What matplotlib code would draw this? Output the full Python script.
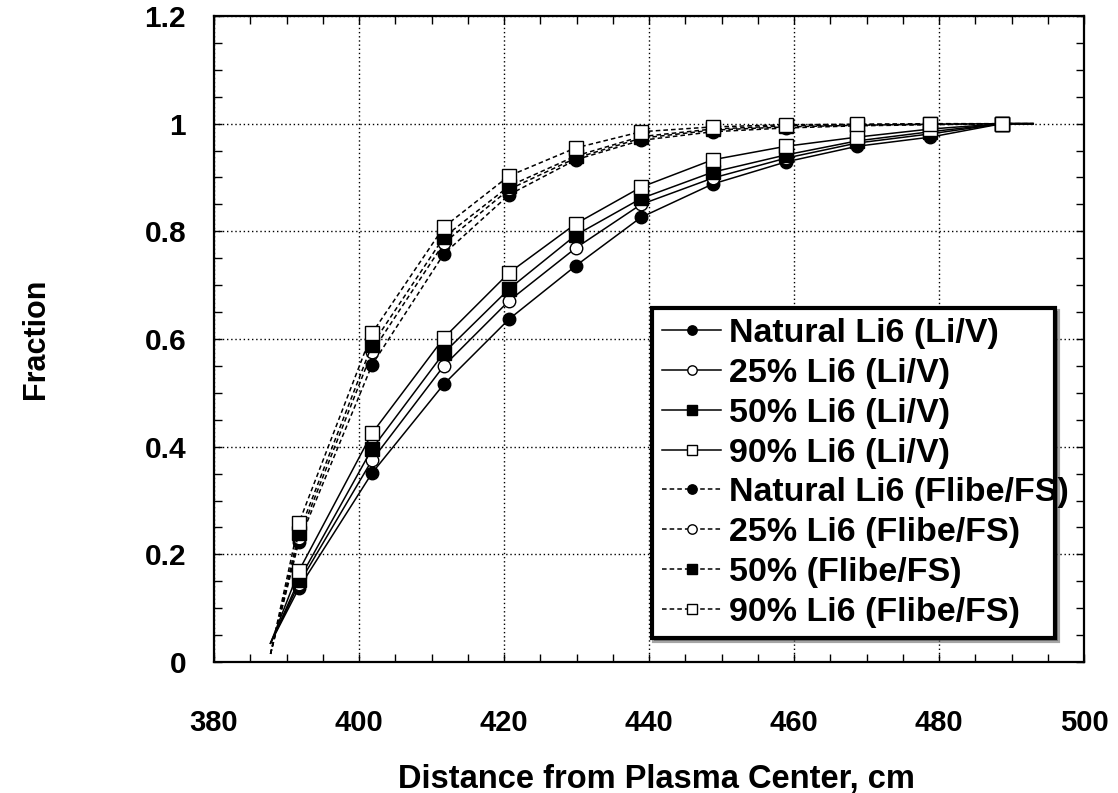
import matplotlib
matplotlib.use("Agg")
import matplotlib.pyplot as plt
from matplotlib.ticker import MultipleLocator

plt.rcParams['font.family'] = ['Liberation Sans', 'DejaVu Sans']
plt.rcParams['font.weight'] = 'bold'

# Radial distance of the sampled points (cm)
distance_cm = [387.8, 391.7, 401.8, 411.7, 420.7, 429.9, 438.9, 448.8,
               458.9, 468.7, 478.8, 488.7, 493.0]

# Cumulative fraction, Li/V blanket
li_v_natural = [0.035, 0.137, 0.351, 0.516, 0.637, 0.736, 0.826, 0.888, 0.929, 0.958, 0.975, 1.0, 1.0]
li_v_25 = [0.035, 0.145, 0.375, 0.550, 0.671, 0.769, 0.850, 0.899, 0.936, 0.964, 0.981, 1.0, 1.0]
li_v_50 = [0.035, 0.152, 0.396, 0.574, 0.693, 0.793, 0.861, 0.910, 0.942, 0.968, 0.985, 1.0, 1.0]
li_v_90 = [0.035, 0.169, 0.425, 0.602, 0.723, 0.814, 0.882, 0.933, 0.958, 0.975, 0.990, 1.0, 1.0]

# Cumulative fraction, Flibe/FS blanket
flibe_natural = [0.015, 0.223, 0.552, 0.758, 0.868, 0.933, 0.969, 0.985, 0.992, 0.996, 0.998, 1.0, 1.0]
flibe_25 = [0.015, 0.230, 0.576, 0.778, 0.878, 0.936, 0.973, 0.988, 0.994, 0.997, 0.999, 1.0, 1.0]
flibe_50 = [0.015, 0.240, 0.589, 0.789, 0.884, 0.940, 0.976, 0.990, 0.996, 0.998, 0.999, 1.0, 1.0]
flibe_90 = [0.015, 0.258, 0.611, 0.808, 0.903, 0.955, 0.985, 0.994, 0.998, 0.999, 1.0, 1.0, 1.0]

labels = ["Natural Li6 (Li/V)", "25% Li6 (Li/V)", "50% Li6 (Li/V)", "90% Li6 (Li/V)",
          "Natural Li6 (Flibe/FS)", "25% Li6 (Flibe/FS)", "50% (Flibe/FS)", "90% Li6 (Flibe/FS)"]

fig = plt.figure(figsize=(11.18, 7.93), dpi=100)
ax = fig.add_axes([214 / 1118, 1 - 662 / 793, 870 / 1118, 646 / 793])

marker_styles = [("o", "black"), ("o", "white"), ("s", "black"), ("s", "white")]
series = [li_v_natural, li_v_25, li_v_50, li_v_90,
          flibe_natural, flibe_25, flibe_50, flibe_90]

for i, (values, label) in enumerate(zip(series, labels)):
    marker, face = marker_styles[i % 4]
    dashed = i >= 4
    ax.plot(distance_cm, values, color="black", lw=1.1,
            linestyle=(0, (3, 2)) if dashed else "-",
            marker=marker, markerfacecolor=face, markeredgecolor="black",
            markeredgewidth=1.0, markersize=9 if marker == "o" else 9.5,
            markevery=slice(1, -1), label=label, zorder=3 + i % 4)

ax.set_xlim(380, 500)
ax.set_ylim(0, 1.2)
ax.xaxis.set_major_locator(MultipleLocator(20))
ax.xaxis.set_minor_locator(MultipleLocator(5))
ax.yaxis.set_minor_locator(MultipleLocator(0.05))
ax.set_yticks([0, 0.2, 0.4, 0.6, 0.8, 1.0, 1.2])
ax.set_yticklabels(["0", "0.2", "0.4", "0.6", "0.8", "1", "1.2"])

ax.tick_params(which="both", direction="in", top=True, right=True,
               length=6, width=1.0, colors="black")
ax.tick_params(axis="x", which="major", labelsize=21, pad=34)
ax.tick_params(axis="y", which="major", labelsize=21.5, pad=20)

ax.grid(True, which="major", color="black", linestyle=(0, (1, 2)), lw=1.0)
for spine in ax.spines.values():
    spine.set_linewidth(1.6)

ax.set_xlabel("Distance from Plasma Center, cm", fontsize=23.5, fontweight="bold", labelpad=19)
ax.xaxis.label.set_x(0.508)
ax.set_ylabel("Fraction", fontsize=22, fontweight="bold", labelpad=67)

leg = ax.legend(loc="lower left", bbox_to_anchor=(0.503, 0.037, 0.464, 0.516),
                mode="expand", fontsize=24.5, frameon=True, fancybox=False,
                shadow=True, handlelength=1.75, handletextpad=0.22,
                labelspacing=0.26, borderpad=0.3, borderaxespad=0,
                markerscale=0.75)
leg.get_frame().set_edgecolor("black")
leg.get_frame().set_linewidth(3.0)
leg.set_zorder(10)

fig.savefig("out.png", dpi=100, facecolor="white")
